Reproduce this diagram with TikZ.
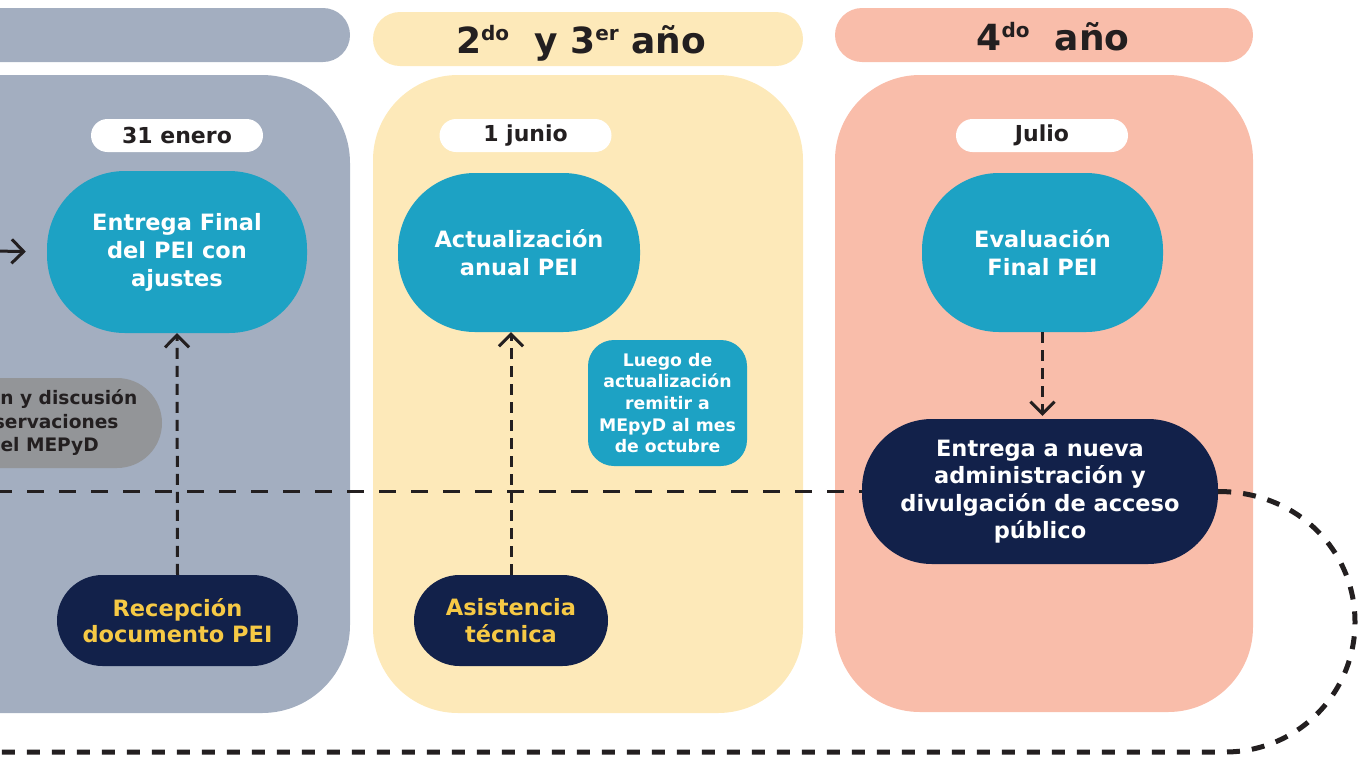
\documentclass[tikz,border=0pt]{standalone}
\usepackage{fontspec}
\setmainfont{DejaVu Sans}
\usetikzlibrary{arrows.meta}
\definecolor{pgray}{HTML}{A3AEC0}
\definecolor{pyellow}{HTML}{FDE9B9}
\definecolor{psalmon}{HTML}{F9BDAA}
\definecolor{cteal}{HTML}{1DA2C4}
\definecolor{cnavy}{HTML}{12214A}
\definecolor{cyel}{HTML}{F6C945}
\definecolor{cgray}{HTML}{939598}
\definecolor{cdark}{HTML}{231F20}
\begin{document}
\begin{tikzpicture}[x=1pt,y=-1pt,
  bigfont/.style={font=\bfseries\fontsize{22.5}{28}\selectfont},
  tealnode/.style={fill=cteal, text=white, align=center, inner sep=0pt, bigfont},
  navynode/.style={fill=cnavy, align=center, inner sep=0pt, font=\bfseries\fontsize{22.5}{26.5}\selectfont},
  datelabel/.style={fill=white, rounded corners=16.5pt, minimum width=172pt, minimum height=33pt, inner sep=0pt, text=cdark, font=\bfseries\fontsize{22}{26}\selectfont},
  headtxt/.style={text=cdark, anchor=base, inner sep=0pt, font=\bfseries\fontsize{36}{40}\selectfont},
  dashv/.style={draw=cdark, line width=3pt, dash pattern=on 11pt off 7pt, -{Straight Barb[length=12pt,width=24pt]}},
  thindash/.style={draw=cdark, line width=3pt, dash pattern=on 17pt off 15pt},
  loopdash/.style={draw=cdark, line width=5pt, dash pattern=on 13pt off 12pt},
  solidarrow/.style={draw=cdark, line width=3pt, -{Straight Barb[length=12pt,width=24pt]}}
]
\useasboundingbox (0,0) rectangle (1360,756);
\clip (0,0) rectangle (1360,756);

% headers
\fill[pgray, rounded corners=27pt] (-100,8) rectangle (350,62);
\fill[pyellow, rounded corners=27pt] (373,12) rectangle (803,66);
\fill[psalmon, rounded corners=27pt] (835,8) rectangle (1253,62);

% panels
\fill[pgray, rounded corners=88pt] (-200,75) rectangle (350,713);
\fill[pyellow, rounded corners=85pt] (373,75) rectangle (803,713);
\fill[psalmon, rounded corners=85pt] (835,75) rectangle (1253,712);

% header texts
\node[headtxt] (h2) at (581,53) {2\raisebox{13pt}{\fontsize{20}{20}\selectfont do}\ \ y 3\raisebox{13pt}{\fontsize{20}{20}\selectfont er} año};
\node[headtxt] (h3) at (1053,50) {4\raisebox{13pt}{\fontsize{20}{20}\selectfont do}\ \ año};

% date labels
\node[datelabel] (d1) at (177,135.5) {31 enero};
\node[datelabel] (d2) at (525.5,135.5) {1 junio};
\node[datelabel] (d3) at (1042,135.5) {Julio};

% teal nodes
\node[tealnode, rounded corners=78pt, minimum width=260pt, minimum height=162pt] (efin) at (177,252) {Entrega Final\\del PEI con\\ajustes};
\node[tealnode, rounded corners=77pt, minimum width=242pt, minimum height=159pt] (act) at (519,252.5) {Actualización\\anual PEI};
\node[tealnode, rounded corners=77pt, minimum width=241pt, minimum height=159pt] (eval) at (1042.5,252.5) {Evaluación\\Final PEI};
\node[fill=cteal, text=white, align=center, inner sep=0pt, rounded corners=26pt, minimum width=159pt, minimum height=126pt, font=\bfseries\fontsize{17.3}{21.7}\selectfont] (luego) at (667.5,403) {Luego de\\actualización\\remitir a\\MEpyD al mes\\de octubre};

% gray node (partly outside, as in the reference)
\node[fill=cgray, text=cdark, align=center, inner sep=0pt, rounded corners=45pt, minimum width=262pt, minimum height=90pt, font=\bfseries\fontsize{18.6}{23.5}\selectfont] (rev) at (31,423) {Revisión y discusión\\\hspace*{-8pt}de observaciones\\\hspace*{24pt}del MEPyD};

% navy nodes
\node[navynode, text=cyel, rounded corners=45.5pt, minimum width=241pt, minimum height=91pt] (rec) at (177.5,620.5) {Recepción\\documento PEI};
\node[navynode, text=cyel, rounded corners=45.5pt, minimum width=194pt, minimum height=91pt] (asis) at (511,620.5) {Asistencia\\técnica};
\node[navynode, text=white, rounded corners=70pt, minimum width=356pt, minimum height=145pt, font=\bfseries\fontsize{22.5}{27.3}\selectfont] (ent2) at (1040,491.5) {Entrega a nueva\\administración y\\divulgación de acceso\\público};

% connectors
\coordinate (La) at (-5,251);
\coordinate (Lh) at (-5,491.5);
\coordinate (Lb) at (-5,752);
\draw[solidarrow, shorten >=21pt] (La) -- (efin.west);
\draw[thindash] (Lh) -- (ent2.west);
\draw[loopdash] (ent2.east) .. controls (1297,491.5) and (1355,550) .. (1355,622) .. controls (1355,694) and (1297,752) .. (1225,752) -- (Lb);
\draw[dashv] (rec.north) -- (efin.south);
\draw[dashv] (asis.north) -- (asis.north |- act.south);
\draw[dashv, shorten >=3pt] (eval.south) -- (eval.south |- ent2.north);
\end{tikzpicture}
\end{document}
